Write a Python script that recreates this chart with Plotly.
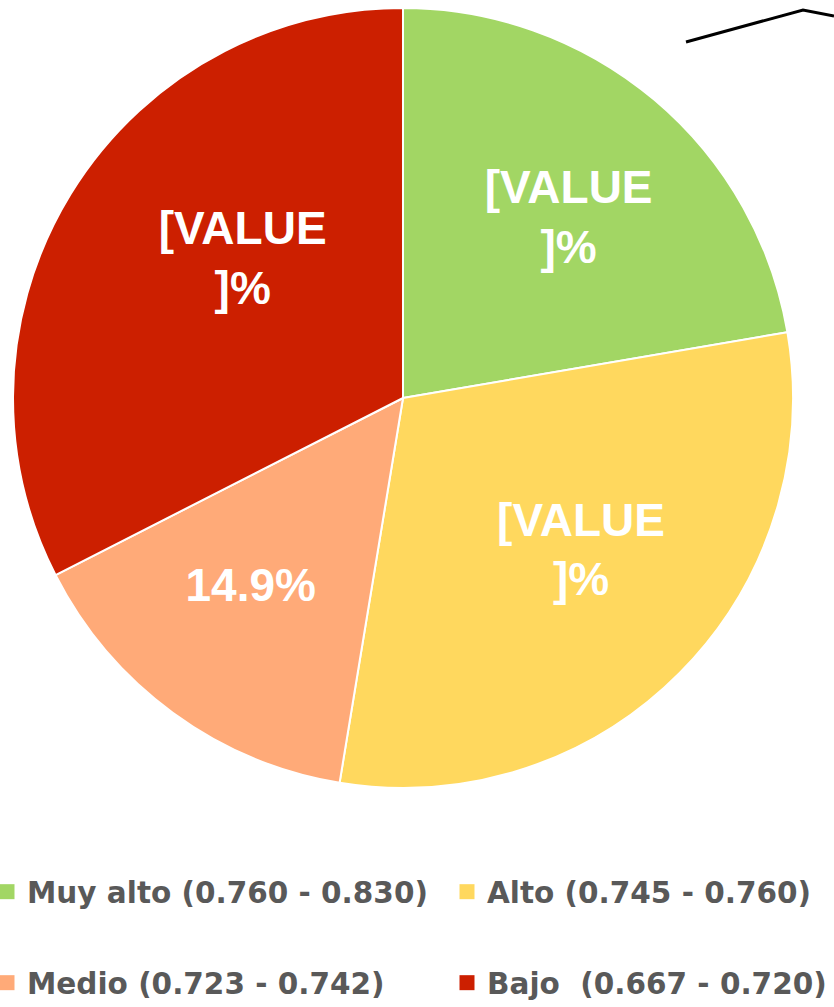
import plotly.graph_objects as go

categories = ["Muy alto (0.760 - 0.830)", "Alto (0.745 - 0.760)",
              "Medio (0.723 - 0.742)", "Bajo  (0.667 - 0.720)"]
values = [22.3, 30.3, 14.9, 32.5]
labels_text = ["[VALUE<br>]%", "[VALUE<br>]%", "14.9%", "[VALUE<br>]%"]
colors = ["#A2D664", "#FFD85E", "#FFAA78", "#CC1F00"]

W, H = 834, 1007
NB = "\u00a0"

# nudge label placement inside slices (extra blank line lifts the text block,
# leading spaces shift it right)
lift = [False, False, True, True]
indent = [2, 4, 1, 3]
display_text = []
for t, up, ind in zip(labels_text, lift, indent):
    lines = [NB * ind + s for s in t.split("<br>")]
    if up:
        lines.append(NB)
    display_text.append("<br>".join(lines))

fig = go.Figure()

fig.add_trace(go.Pie(
    labels=categories,
    values=values,
    text=display_text,
    texttemplate="%{text}",
    textposition="inside",
    insidetextorientation="horizontal",
    sort=False,
    direction="clockwise",
    rotation=0,
    marker=dict(colors=colors, line=dict(color="white", width=2)),
    textfont=dict(family="Liberation Sans, Arial", size=46, color="white", weight="bold"),
    domain=dict(x=[13 / W, 793 / W], y=[1 - 788 / H, 1 - 8 / H]),
    hoverinfo="label+percent",
    showlegend=False,
))

# legend entries (one legend per entry, arranged in a 2x2 grid)
legend_names = ["legend", "legend2", "legend3", "legend4"]
legend_x = [-13 / W, 447 / W, -13 / W, 447 / W]
legend_y = [1 - 892 / H, 1 - 892 / H, 1 - 983 / H, 1 - 983 / H]
legend_font = dict(family="DejaVu Sans", size=29.5, color="#595959", weight="bold")

for cat, col, lg in zip(categories, colors, legend_names):
    fig.add_trace(go.Scatter(
        x=[None], y=[None], mode="markers", name=cat,
        marker=dict(symbol="square", size=15, color=col),
        legend=lg, showlegend=True, hoverinfo="skip",
    ))

layout_legends = {}
for lg, lx, ly in zip(legend_names, legend_x, legend_y):
    layout_legends[lg] = dict(
        x=lx, xanchor="left", y=ly, yanchor="middle",
        font=legend_font, bgcolor="rgba(0,0,0,0)", borderwidth=0,
    )

fig.update_layout(
    width=W, height=H,
    margin=dict(l=0, r=0, t=0, b=0, autoexpand=False),
    paper_bgcolor="white",
    plot_bgcolor="white",
    xaxis=dict(visible=False),
    yaxis=dict(visible=False),
    shapes=[dict(type="path", xref="paper", yref="paper",
                 path=f"M {686/W},{1-42/H} L {803/W},{1-10/H} L {1.0},{1-16/H}",
                 line=dict(color="black", width=3))],
    **layout_legends,
)

fig.write_html("out.html",
               config={"displayModeBar": False},
               post_script="document.body.style.margin='0';document.body.style.overflow='hidden';")
